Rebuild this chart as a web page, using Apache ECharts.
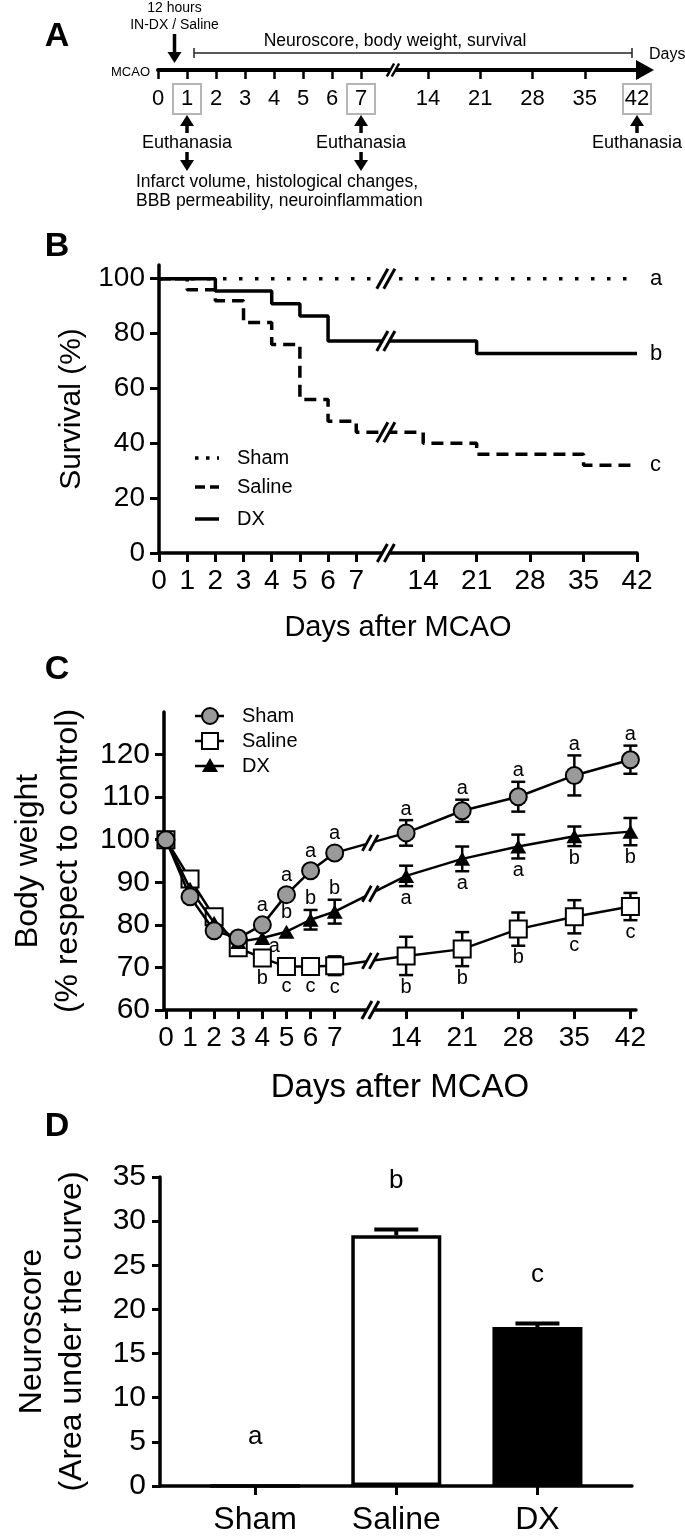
<!DOCTYPE html>
<html><head><meta charset="utf-8">
<script src="https://cdn.jsdelivr.net/npm/echarts@6/dist/echarts.min.js"></script>
<style>html,body{margin:0;padding:0;background:#fff}#c{width:685px;height:1536px}</style>
</head><body><div id="c"></div><script>
const FONT = 'Liberation Sans, Arial, Helvetica, sans-serif';

// ---------- DATA ----------
// shared day ticks of the broken time axes
const tickDays = [0,1,2,3,4,5,6,7,14,21,28,35,42];
// Panel A timeline
const boxedDays = [1,7,42];
const euthanasiaDays = [1,7,42];
const analysisDays = [1,7];
const treatmentDay = 0.5;
// Panel B survival (Kaplan-Meier steps)
const survTicks = [0,20,40,60,80,100];
const shamSurvDays = [0,42];
const shamSurv = [100,100];
const salineSurvDays = [0,1,2,3,4,5,6,7,14,21,35,42];
const salineSurv = [100,96,92,84,76,56,48,44,40,36,32,32];
const dxSurvDays = [0,2,4,5,6,21,42];
const dxSurv = [100,95.5,90.9,86.4,77.3,72.7,72.7];
const survLetters = ['a','c','b']; // Sham, Saline, DX
// Panel C body weight
const bwDays = [0,1,2,3,4,5,6,7,14,21,28,35,42];
const bwTicks = [60,70,80,90,100,110,120];
const shamBW = [100,86.6,78.6,76.9,80.0,87.1,92.7,96.9,101.6,106.8,110.1,115.1,118.8];
const shamBWErr = [0.8,1.0,1.0,1.0,1.2,1.2,1.2,1.3,3.0,2.6,3.5,4.7,3.3];
const salineBW = [100,90.8,81.9,74.6,72.2,70.2,70.2,70.4,72.7,74.3,79.0,81.9,84.3];
const salineBWErr = [0.8,1.2,1.2,1.2,1.3,1.0,1.0,2.2,4.5,4.0,3.9,3.9,3.2];
const dxBW = [100,88.5,80.5,76.0,76.9,78.4,81.2,83.1,91.5,95.5,98.4,100.8,101.9];
const dxBWErr = [0.8,1.0,1.0,1.0,1.0,1.2,2.3,2.8,2.4,2.9,2.8,2.3,3.2];
const shamBWLetters = ['','','','','a','a','a','a','a','a','a','a','a'];
const salineBWLetters = ['','','','','b','c','c','c','b','b','b','c','c'];
const dxBWLetters = ['','','','','a','b','b','b','a','a','a','b','b'];
// Panel D neuroscore AUC
const groups = ['Sham','Saline','DX'];
const auc = [0,28.4,18.0];
const aucErr = [0,0.65,0.4];
const aucLetters = ['a','b','c'];
const aucTicks = [0,5,10,15,20,25,30,35];

// ---------- STYLE / LAYOUT ----------
const shamSide = shamBWLetters.map(() => 'top');
const salineSide = salineBWLetters.map(() => 'bottom');
const dxSide = ['','','','','right','top','top','top','bottom','bottom','bottom','bottom','bottom'];
const barFills = ['#fff','#fff','#000'];

function breakScale(gap, ratio) {
  return d => d <= 7 ? d : (d >= 14 ? 7 + gap + (d - 14) * ratio : 7 + (d - 7) / 7 * gap);
}
const posA = breakScale(2.31, 0.2573);
const posB = breakScale(2.376, 0.271);
const posC = breakScale(2.964, 0.3323);
function dayAt(scale, v) {
  let best = 0, bd = 1e9;
  for (const d of tickDays) { const dd = Math.abs(scale(d) - v); if (dd < bd) { bd = dd; best = d; } }
  return best;
}
const axBlack = w => ({show: true, onZero: false, lineStyle: {color: '#000', width: w}});
const lbl = (size, extra) => Object.assign({color: '#000', fontSize: size, fontFamily: FONT}, extra || {});

function bwErr(vals, errs, letters, sides, z) {
  return {
    type: 'custom', xAxisIndex: 2, yAxisIndex: 2, z: z,
    data: bwDays.map((d, i) => [posC(d), vals[i], errs[i], i]),
    renderItem: (params, api) => {
      const x = api.value(0), m = api.value(1), e = api.value(2), i = api.value(3);
      const pT = api.coord([x, m + e]), pB = api.coord([x, m - e]), pM = api.coord([x, m]);
      const ch = [];
      const st = {stroke: '#000', lineWidth: 2.5};
      if (pM[1] - pT[1] > 9) {
        ch.push({type: 'line', shape: {x1: pT[0], y1: pT[1], x2: pB[0], y2: pB[1]}, style: st});
        ch.push({type: 'line', shape: {x1: pT[0] - 7, y1: pT[1], x2: pT[0] + 7, y2: pT[1]}, style: st});
        ch.push({type: 'line', shape: {x1: pB[0] - 7, y1: pB[1], x2: pB[0] + 7, y2: pB[1]}, style: st});
      }
      const L = letters[i];
      if (L) {
        let tx = pM[0], ty;
        const s = sides[i];
        if (s === 'top') ty = Math.min(pT[1], pM[1] - 8) - 11;
        else if (s === 'bottom') ty = Math.max(pB[1], pM[1] + 8) + 12;
        else { tx += 12; ty = pM[1] + 8; }
        ch.push({type: 'text', style: {text: L, x: tx, y: ty, align: 'center', verticalAlign: 'middle', fontSize: 20, fontFamily: FONT, fill: '#000'}});
      }
      return {type: 'group', children: ch};
    }
  };
}

const option = {
  animation: false,
  backgroundColor: '#fff',
  textStyle: {fontFamily: FONT},
  grid: [
    {left: 158, top: 20, width: 487, height: 50},
    {left: 159, top: 265, width: 478, height: 288},
    {left: 160, top: 712, width: 476, height: 298},
    {left: 160, top: 1177, width: 472, height: 310}
  ],
  xAxis: [
    {gridIndex: 0, type: 'value', min: 0, max: 16.79,
     axisLine: {show: true, onZero: false, lineStyle: {color: '#000', width: 4}, symbol: ['none', 'triangle'], symbolSize: [20, 18]},
     axisTick: {show: true, customValues: tickDays.map(posA), length: 9, lineStyle: {color: '#000', width: 2.5}},
     axisLabel: {customValues: tickDays.map(posA), margin: 14, color: '#000',
       formatter: v => { const d = dayAt(posA, v); return boxedDays.includes(d) ? '{b|' + d + '}' : '{n|' + d + '}'; },
       rich: {n: lbl(22, {padding: [4, 0]}), b: lbl(22, {padding: [4, 0], width: 28, align: 'center', borderColor: '#b5b5b5', borderWidth: 2})}},
     splitLine: {show: false}},
    {gridIndex: 1, type: 'value', min: 0, max: posB(42),
     axisLine: axBlack(3.5),
     axisTick: {show: true, customValues: tickDays.map(posB), length: 9, lineStyle: {color: '#000', width: 3}},
     axisLabel: lbl(28, {customValues: tickDays.map(posB), margin: 14, formatter: v => String(dayAt(posB, v))}),
     splitLine: {show: false},
     name: 'Days after MCAO', nameLocation: 'middle', nameGap: 60, nameTextStyle: lbl(29)},
    {gridIndex: 2, type: 'value', min: -0.08, max: 19.5,
     axisLine: axBlack(3.5),
     axisTick: {show: true, customValues: tickDays.map(posC), length: 9, lineStyle: {color: '#000', width: 3}},
     axisLabel: lbl(28, {customValues: tickDays.map(posC), margin: 14, formatter: v => String(dayAt(posC, v))}),
     splitLine: {show: false},
     name: 'Days after MCAO', nameLocation: 'middle', nameGap: 61, nameTextStyle: lbl(33)},
    {gridIndex: 3, type: 'value', min: -0.674, max: 2.67,
     axisLine: axBlack(3.5),
     axisTick: {show: true, customValues: [0, 1, 2], length: 9, lineStyle: {color: '#000', width: 3}},
     axisLabel: lbl(32, {customValues: [0, 1, 2], margin: 18, formatter: v => groups[Math.round(v)]}),
     splitLine: {show: false}}
  ],
  yAxis: [
    {gridIndex: 0, type: 'value', show: false, min: 0, max: 1},
    {gridIndex: 1, type: 'value', min: 0, max: 105,
     axisLine: axBlack(3.5),
     axisTick: {show: true, customValues: survTicks, length: 9, lineStyle: {color: '#000', width: 3}},
     axisLabel: lbl(28, {customValues: survTicks, margin: 14}),
     splitLine: {show: false},
     name: 'Survival (%)', nameLocation: 'middle', nameGap: 72, nameTextStyle: lbl(30)},
    {gridIndex: 2, type: 'value', min: 60, max: 130,
     axisLine: axBlack(3.5),
     axisTick: {show: true, customValues: bwTicks, length: 9, lineStyle: {color: '#000', width: 3}},
     axisLabel: lbl(30, {customValues: bwTicks, margin: 14}),
     splitLine: {show: false},
     name: 'Body weight\n(% respect to control)', nameLocation: 'middle', nameGap: 76,
     nameTextStyle: lbl(32, {lineHeight: 40})},
    {gridIndex: 3, type: 'value', min: 0, max: 35, interval: 5,
     axisLine: axBlack(3.5),
     axisTick: {show: true, length: 8, lineStyle: {color: '#000', width: 3}},
     axisLabel: lbl(30, {margin: 14}),
     splitLine: {show: false},
     name: 'Neuroscore\n(Area under the curve)', nameLocation: 'middle', nameGap: 68,
     nameTextStyle: lbl(32, {lineHeight: 40})}
  ],
  series: [
    // timeline carrier (invisible)
    {type: 'line', xAxisIndex: 0, yAxisIndex: 0, data: [], silent: true},
    // survival
    {type: 'line', name: 'Sham', xAxisIndex: 1, yAxisIndex: 1, step: 'end', symbol: 'none',
     data: shamSurvDays.map((d, i) => [posB(d), shamSurv[i]]),
     lineStyle: {color: '#000', width: 3.5, type: [3.5, 12.5]},
     endLabel: {show: true, formatter: survLetters[0], distance: 13, color: '#000', fontSize: 22, fontFamily: FONT}},
    {type: 'line', name: 'Saline', xAxisIndex: 1, yAxisIndex: 1, step: 'end', symbol: 'none',
     data: salineSurvDays.map((d, i) => [posB(d), salineSurv[i]]),
     lineStyle: {color: '#000', width: 3.5, type: [12, 7]},
     endLabel: {show: true, formatter: survLetters[1], distance: 13, color: '#000', fontSize: 22, fontFamily: FONT}},
    {type: 'line', name: 'DX', xAxisIndex: 1, yAxisIndex: 1, step: 'end', symbol: 'none',
     data: dxSurvDays.map((d, i) => [posB(d), dxSurv[i]]),
     lineStyle: {color: '#000', width: 3.5},
     endLabel: {show: true, formatter: survLetters[2], distance: 13, color: '#000', fontSize: 22, fontFamily: FONT}},
    // body weight error bars + letters
    bwErr(salineBW, salineBWErr, salineBWLetters, salineSide, 1),
    bwErr(dxBW, dxBWErr, dxBWLetters, dxSide, 1),
    bwErr(shamBW, shamBWErr, shamBWLetters, shamSide, 1),
    // body weight lines
    {type: 'line', xAxisIndex: 2, yAxisIndex: 2, z: 3, showAllSymbol: true,
     data: bwDays.map((d, i) => [posC(d), salineBW[i]]),
     symbol: 'rect', symbolSize: 17, itemStyle: {color: '#fff', borderColor: '#000', borderWidth: 2},
     lineStyle: {color: '#000', width: 2.5}},
    {type: 'line', xAxisIndex: 2, yAxisIndex: 2, z: 4, showAllSymbol: true,
     data: bwDays.map((d, i) => [posC(d), dxBW[i]]),
     symbol: 'triangle', symbolSize: [16, 14], itemStyle: {color: '#000'},
     lineStyle: {color: '#000', width: 2.5}},
    {type: 'line', xAxisIndex: 2, yAxisIndex: 2, z: 5, showAllSymbol: true,
     data: bwDays.map((d, i) => [posC(d), shamBW[i]]),
     symbol: 'circle', symbolSize: 17, itemStyle: {color: '#9a9a9a', borderColor: '#000', borderWidth: 2},
     lineStyle: {color: '#000', width: 2.5}},
    // neuroscore bars
    {type: 'bar', xAxisIndex: 3, yAxisIndex: 3, barWidth: 90,
     data: groups.map((g, i) => ({value: [i, auc[i]], itemStyle: {color: barFills[i], borderColor: '#000', borderWidth: 3.5}}))},
    {type: 'custom', xAxisIndex: 3, yAxisIndex: 3, z: 5,
     data: groups.map((g, i) => [i, auc[i], aucErr[i], i]),
     renderItem: (params, api) => {
       const x = api.value(0), v = api.value(1), e = api.value(2), i = api.value(3);
       const p0 = api.coord([x, v]), p1 = api.coord([x, v + e]);
       const ch = [];
       if (e > 0) {
         ch.push({type: 'line', shape: {x1: p0[0], y1: p0[1], x2: p1[0], y2: p1[1]}, style: {stroke: '#000', lineWidth: 4}});
         ch.push({type: 'line', shape: {x1: p1[0] - 22, y1: p1[1], x2: p1[0] + 22, y2: p1[1]}, style: {stroke: '#000', lineWidth: 4}});
       }
       ch.push({type: 'text', style: {text: aucLetters[i], x: p1[0], y: p1[1] - 49, align: 'center', verticalAlign: 'middle', fontSize: 26, fontFamily: FONT, fill: '#000'}});
       return {type: 'group', children: ch};
     }}
  ]
};

const chart = echarts.init(document.getElementById('c'));
chart.setOption(option);

// ---------- annotations ----------
const G = [];
const px = (g, x, y) => chart.convertToPixel({gridIndex: g}, [x, y]);
function text(t, x, y, size, extra) {
  G.push({type: 'text', x: x, y: y, z: 100,
    style: Object.assign({text: t, fontSize: size, fontFamily: FONT, fill: '#000', align: 'center', verticalAlign: 'middle'}, extra || {})});
}
function seg(x1, y1, x2, y2, w, extra) {
  G.push({type: 'line', z: 100, shape: {x1: x1, y1: y1, x2: x2, y2: y2}, style: Object.assign({stroke: '#000', lineWidth: w}, extra || {})});
}
function arrow(x, yTail, yTip) {
  const dir = Math.sign(yTip - yTail), head = 11;
  seg(x, yTail, x, yTip - dir * (head - 1), 3.5);
  G.push({type: 'polygon', z: 100, shape: {points: [[x, yTip], [x - 7, yTip - dir * head], [x + 7, yTip - dir * head]]}, style: {fill: '#000'}});
}
function breakMark(x, y, h, gap, w) {
  const dx = h * 0.28;
  G.push({type: 'polygon', z: 99, shape: {points: [[x - gap / 2 - dx, y + h / 2], [x - gap / 2 + dx, y - h / 2], [x + gap / 2 + dx, y - h / 2], [x + gap / 2 - dx, y + h / 2]]}, style: {fill: '#fff'}});
  seg(x - gap / 2 - dx, y + h / 2, x - gap / 2 + dx, y - h / 2, w);
  seg(x + gap / 2 - dx, y + h / 2, x + gap / 2 + dx, y - h / 2, w);
}
const bold = {fontWeight: 'bold'};
text('A', 57, 37, 34, bold);
text('B', 57, 247, 34, bold);
text('C', 57, 670, 34, bold);
text('D', 57, 1127, 34, bold);

// Panel A
const xA = d => px(0, posA(d), 0)[0];
const axisYA = px(0, 0, 0)[1];
text('12 hours', xA(treatmentDay) + 2, 8, 14);
text('IN-DX / Saline', xA(treatmentDay) + 2, 25, 14);
arrow(xA(treatmentDay) + 2, 34, axisYA - 7);
text('Neuroscore, body weight, survival', 395, 41, 17.5);
const bx1 = xA(1) + 7, bx2 = xA(42) - 5;
seg(bx1, 53, bx2, 53, 1.5, {stroke: '#222'});
seg(bx1, 48, bx1, 58, 1.5, {stroke: '#222'});
seg(bx2, 48, bx2, 58, 1.5, {stroke: '#222'});
text('Days', 649, 55, 16, {align: 'left'});
text('MCAO', 150, axisYA + 2, 13, {align: 'right'});
breakMark(px(0, 8.1, 0)[0], axisYA, 13, 5, 2.5);
euthanasiaDays.forEach(d => { arrow(xA(d), axisYA + 63, axisYA + 45); text('Euthanasia', xA(d), axisYA + 73, 18); });
analysisDays.forEach(d => arrow(xA(d), axisYA + 82, axisYA + 101));
text('Infarct volume, histological changes,', 136, axisYA + 112, 17.5, {align: 'left'});
text('BBB permeability, neuroinflammation', 136, axisYA + 131, 17.5, {align: 'left'});

// Panel B legend + breaks
function survAt(days, vals, d) { let v = vals[0]; days.forEach((dd, i) => { if (dd <= d) v = vals[i]; }); return v; }
const bBreak = 8.05;
[[shamSurvDays, shamSurv], [dxSurvDays, dxSurv], [salineSurvDays, salineSurv]].forEach(([ds, vs]) => {
  const p = px(1, bBreak, survAt(ds, vs, 7)); breakMark(p[0], p[1], 20, 7, 3);
});
{ const p = px(1, bBreak, 0); breakMark(p[0], p[1], 18, 7, 3); }
const legB = [['Sham', [3.5, 7.5]], ['Saline', [10, 5]], ['DX', null]];
const legBY = [458, 487, 519];
legB.forEach(([n, dash], i) => {
  seg(195, legBY[i], 219, legBY[i], 3.5, dash ? {lineDash: dash} : {});
  text(n, 237, legBY[i], 20, {align: 'left'});
});

// Panel C legend + breaks
const cBreak = 8.48;
const fr = (cBreak - posC(7)) / (posC(14) - posC(7));
[shamBW, dxBW, salineBW].forEach(arr => {
  const i7 = bwDays.indexOf(7), i14 = bwDays.indexOf(14);
  const p = px(2, cBreak, arr[i7] + (arr[i14] - arr[i7]) * fr); breakMark(p[0], p[1], 16, 7, 2.8);
});
{ const p = px(2, cBreak, 60); breakMark(p[0], p[1], 18, 7, 3); }
const legCY = [716, 741, 766];
legCY.forEach(y => seg(195, y, 224, y, 2.5));
G.push({type: 'circle', z: 101, shape: {cx: 210, cy: legCY[0], r: 8}, style: {fill: '#9a9a9a', stroke: '#000', lineWidth: 2}});
G.push({type: 'rect', z: 101, shape: {x: 202, y: legCY[1] - 8, width: 16, height: 16}, style: {fill: '#fff', stroke: '#000', lineWidth: 2}});
G.push({type: 'polygon', z: 101, shape: {points: [[210, legCY[2] - 8], [202, legCY[2] + 6], [218, legCY[2] + 6]]}, style: {fill: '#000'}});
['Sham', 'Saline', 'DX'].forEach((n, i) => text(n, 242, legCY[i], 20, {align: 'left'}));

chart.setOption({graphic: {elements: G}});
</script></body></html>
